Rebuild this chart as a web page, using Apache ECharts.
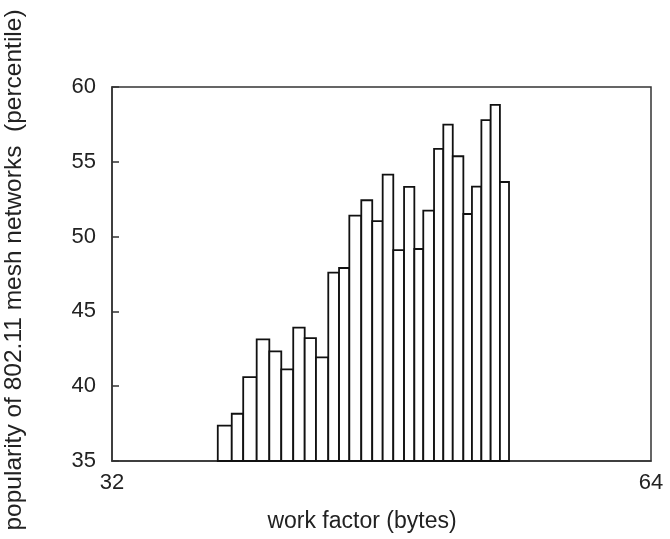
<!DOCTYPE html>
<html>
<head>
<meta charset="utf-8">
<script src="https://cdn.jsdelivr.net/npm/echarts@6/dist/echarts.min.js"></script>
<style>html,body{margin:0;padding:0;background:#fff}#c{width:670px;height:539px}</style>
</head>
<body>
<div id="c"></div>
<script>
// bin edges (work factor, bytes) and bar heights (percentile)
const binEdges = [38.28, 39.11, 39.79, 40.59, 41.34, 42.05, 42.76, 43.44, 44.11, 44.84,
  45.48, 46.09, 46.80, 47.45, 48.07, 48.70, 49.34, 49.95, 50.48, 51.12,
  51.67, 52.23, 52.86, 53.37, 53.93, 54.48, 55.03, 55.57];
const popularity = [37.36, 38.16, 40.6, 43.13, 42.33, 41.13, 43.91, 43.22, 41.93, 47.59,
  47.90, 51.40, 52.43, 51.04, 54.14, 49.10, 53.32, 49.17, 51.73, 55.86,
  57.48, 55.37, 51.51, 53.34, 57.79, 58.80, 53.65];
const xTicks = [32, 64];
const yTicks = [35, 40, 45, 50, 55, 60];

const xMin = xTicks[0], xMax = xTicks[xTicks.length - 1];
const yMin = yTicks[0], yMax = yTicks[yTicks.length - 1];

const data = popularity.map((v, i) => [binEdges[i], binEdges[i + 1], v]);
const font = '"Liberation Sans", Arial, sans-serif';

const chart = echarts.init(document.getElementById('c'), null, {renderer: 'canvas'});
chart.setOption({
  animation: false,
  backgroundColor: '#fff',
  grid: {left: 112, top: 87, right: 19, bottom: 78, show: true, borderColor: '#333', borderWidth: 1.5, backgroundColor: 'transparent'},
  xAxis: {
    type: 'value', min: xMin, max: xMax, interval: xMax - xMin,
    axisLine: {show: true, lineStyle: {color: '#333', width: 1.5}},
    axisTick: {show: false},
    splitLine: {show: false},
    axisLabel: {fontSize: 22, color: '#222', fontFamily: font, margin: 11}
  },
  yAxis: {
    type: 'value', min: yMin, max: yMax, interval: 5,
    axisLine: {show: true, lineStyle: {color: '#333', width: 1.5}},
    axisTick: {show: true, inside: true, length: 7, lineStyle: {color: '#333', width: 1.5}},
    splitLine: {show: false},
    axisLabel: {fontSize: 22, color: '#222', fontFamily: font, margin: 16}
  },
  graphic: [
    {type: 'text', x: 362, y: 522, style: {text: 'work factor (bytes)', align: 'center', verticalAlign: 'middle', fontSize: 23, fill: '#222', fontFamily: font}},
    {type: 'text', rotation: Math.PI / 2, x: 14, y: 270, style: {text: 'popularity of 802.11 mesh networks  (percentile)', align: 'center', verticalAlign: 'middle', fontSize: 24.5, fill: '#222', fontFamily: font}}
  ],
  series: [{
    type: 'custom',
    data: data,
    encode: {x: [0, 1], y: 2},
    renderItem: function (params, api) {
      const p0 = api.coord([api.value(0), yMin]);
      const p1 = api.coord([api.value(1), api.value(2)]);
      return {
        type: 'rect',
        shape: {x: p0[0], y: p1[1], width: p1[0] - p0[0], height: p0[1] - p1[1]},
        style: {fill: '#fff', stroke: '#111', lineWidth: 1.8}
      };
    }
  }]
});
</script>
</body>
</html>
